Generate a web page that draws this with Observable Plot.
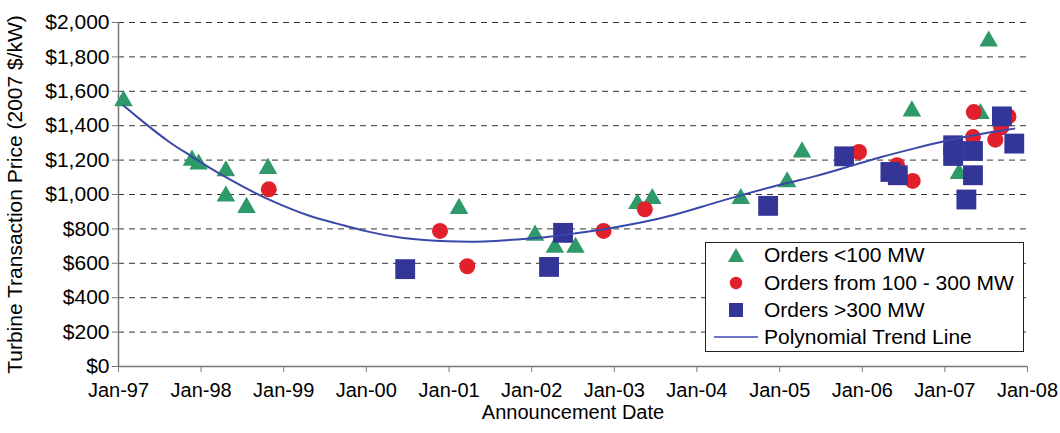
<!DOCTYPE html>
<html><head><meta charset="utf-8">
<script src="https://cdn.jsdelivr.net/npm/d3@7"></script>
<script src="https://cdn.jsdelivr.net/npm/@observablehq/plot@0.6"></script>
<style>
body{margin:0;background:#fff;font-family:"Liberation Sans",Arial,sans-serif;}
#wrap{position:relative;width:1060px;height:433px;}
#legend{position:absolute;left:705px;top:242px;width:319px;height:110px;border:1px solid #222;background:#fff;box-sizing:border-box;}
.row{position:absolute;left:0;height:28px;display:flex;align-items:center;font-size:21px;color:#000;white-space:nowrap;}
.row svg{display:block;}
.sym{width:56px;display:flex;justify-content:center;margin-left:2px;}
</style></head><body><div id="wrap"></div>
<script>
// Orders < 100 MW (decimal year, 2007 $/kW)
const smallDates  = [1997.06,1997.89,1997.97,1998.30,1998.30,1998.55,1998.81,2001.12,2002.04,2002.28,2002.53,2003.28,2003.46,2004.53,2005.09,2005.27,2006.60,2007.17,2007.43,2007.53];
const smallPrices = [1545,1199,1176,1137,990,924,1151,918,763,692,692,947,976,976,1073,1247,1485,1122,1470,1891];
// Orders from 100 - 300 MW
const midDates  = [1998.82,2000.89,2001.22,2002.87,2003.37,2005.96,2006.42,2006.61,2007.35,2007.34,2007.61,2007.68,2007.77];
const midPrices = [1030,788,583,788,914,1247,1170,1079,1479,1334,1319,1390,1454];
// Orders > 300 MW
const largeDates  = [2000.47,2002.21,2002.38,2004.86,2005.78,2006.34,2006.43,2007.10,2007.10,2007.34,2007.34,2007.26,2007.69,2007.84];
const largePrices = [566,579,777,934,1222,1131,1112,1286,1224,1253,1112,971,1454,1296];
// Polynomial trend line
const trendDates  = [1997.06,1997.30,1997.63,1997.87,1998.11,1998.51,1998.83,1999.32,1999.60,2000.01,2000.41,2001.02,2001.42,2001.82,2002.23,2002.51,2002.91,2003.32,2003.73,2004.12,2004.53,2005.13,2005.41,2005.82,2006.22,2006.62,2007.03,2007.43,2007.84];
const trendPrices = [1518,1421,1296,1228,1151,1044,966,870,837,783,744,725,725,738,754,773,800,835,880,938,996,1073,1102,1160,1218,1267,1315,1354,1383];
const yTicks = [0,200,400,600,800,1000,1200,1400,1600,1800,2000];
const xYears = [1997,1998,1999,2000,2001,2002,2003,2004,2005,2006,2007,2008];

const toDate = y => { const yr = Math.floor(y); const s = Date.UTC(yr,0,1), e = Date.UTC(yr+1,0,1); return new Date(s + (y-yr)*(e-s)); };
const pts = (ds, ps) => ds.map((d,i) => ({date: toDate(d), price: ps[i]}));
const small = pts(smallDates, smallPrices), mid = pts(midDates, midPrices), large = pts(largeDates, largePrices), trend = pts(trendDates, trendPrices);
const xTicks = xYears.map(y => new Date(Date.UTC(y,0,1)));

const GREEN = "#2f9a69", RED = "#e2202b", BLUE = "#343697", LINE = "#3a48a8";

const chart = Plot.plot({
  width: 1060, height: 433,
  marginLeft: 118, marginRight: 33, marginTop: 22, marginBottom: 67,
  style: {fontFamily: "'Liberation Sans', Arial, sans-serif", fontSize: "20px", color: "#000", background: "#fff"},
  x: {type: "utc", domain: [xTicks[0], xTicks[xTicks.length-1]]},
  y: {domain: [0, 2000]},
  marks: [
    Plot.gridY(yTicks.slice(1), {stroke: "#333", strokeOpacity: 1, strokeDasharray: "6,5"}),
    Plot.axisY(yTicks, {tickFormat: d3.format("$,"), tickSize: 6, tickPadding: 3, fontSize: 21, stroke: "#777",
      label: "Turbine Transaction Price (2007 $/kW)", labelAnchor: "center", labelArrow: "none", labelOffset: 111}),
    Plot.axisX(xTicks, {tickFormat: d3.utcFormat("%b-%y"), tickSize: 6, tickPadding: 10, fontSize: 20, stroke: "#777",
      label: "Announcement Date", labelAnchor: "center", labelArrow: "none", labelOffset: 52}),
    Plot.ruleY([0], {stroke: "#777", strokeWidth: 1.5}),
    Plot.ruleX([xTicks[0]], {stroke: "#777", strokeWidth: 1.5}),
    Plot.dot(small, {x: "date", y: "price", symbol: "triangle", r: 6.9, fill: GREEN}),
    Plot.dot(mid, {x: "date", y: "price", symbol: "circle", r: 8, fill: RED}),
    Plot.dot(large, {x: "date", y: "price", symbol: "square", r: 11.2, fill: BLUE}),
    Plot.line(trend, {x: "date", y: "price", stroke: LINE, strokeWidth: 2, curve: "basis"})
  ]
});
const wrap = document.getElementById("wrap");
wrap.appendChild(chart);

const legendItems = [
  {label: "Orders <100 MW", icon: `<svg width="18" height="16"><path d="M9 1 L17 15 L1 15 Z" fill="${GREEN}"/></svg>`},
  {label: "Orders from 100 - 300 MW", icon: `<svg width="14" height="14"><circle cx="7" cy="7" r="6.2" fill="${RED}"/></svg>`},
  {label: "Orders >300 MW", icon: `<svg width="14" height="14"><rect x="0" y="0" width="14" height="14" fill="${BLUE}"/></svg>`},
  {label: "Polynomial Trend Line", icon: `<svg width="44" height="4"><line x1="0" y1="2" x2="44" y2="2" stroke="${LINE}" stroke-width="1.6"/></svg>`}
];
const lg = document.createElement("div");
lg.id = "legend";
const centers = [12, 40, 67, 94];
legendItems.forEach((it, i) => {
  const r = document.createElement("div");
  r.className = "row";
  r.style.top = (centers[i] - 14) + "px";
  r.innerHTML = `<span class="sym">${it.icon}</span><span>${it.label}</span>`;
  lg.appendChild(r);
});
wrap.appendChild(lg);
</script>
</body></html>
